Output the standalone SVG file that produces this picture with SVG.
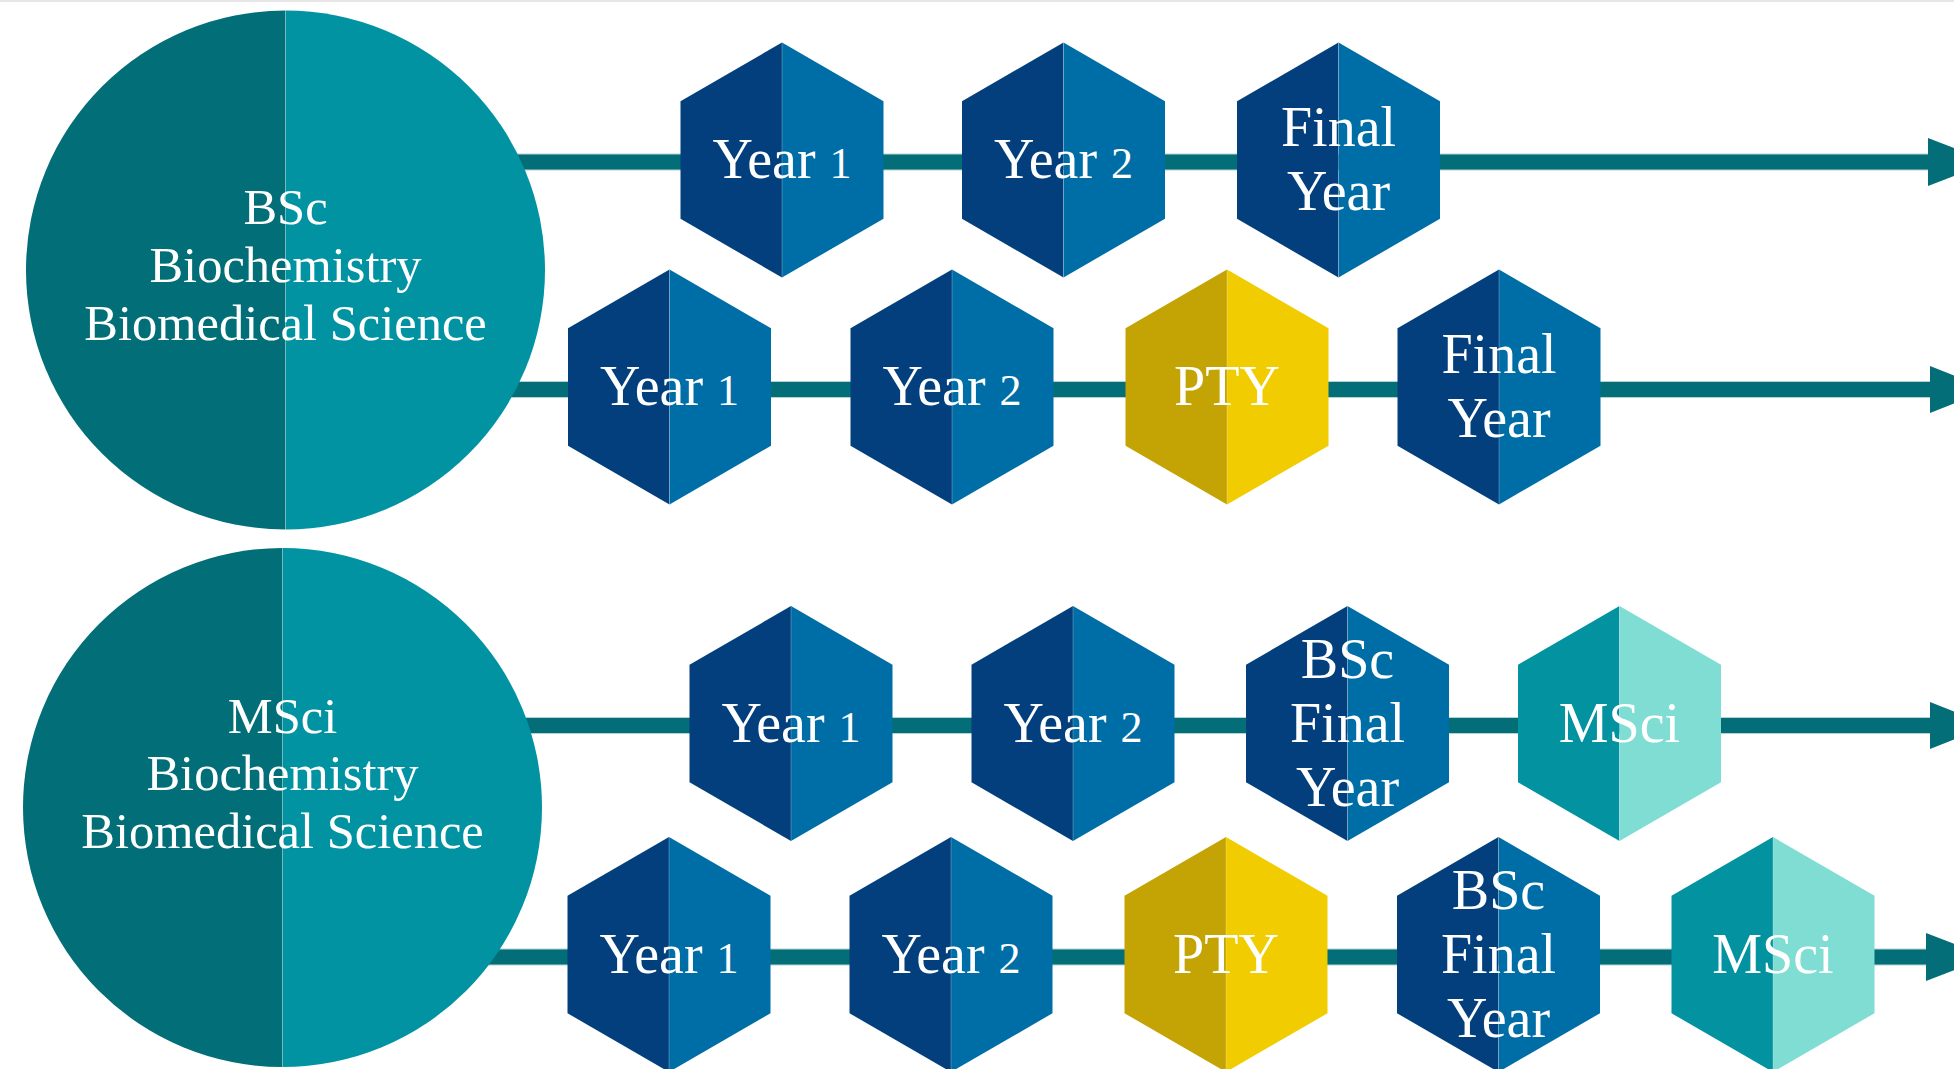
<svg xmlns="http://www.w3.org/2000/svg" xmlns:xlink="http://www.w3.org/1999/xlink" width="1954" height="1069" viewBox="0 0 1954 1069">
  <style>
    .bg{fill:#ffffff}
    .rule{fill:#e6e6e6}
    .conn{fill:#036e77;stroke:#b3d4d7;stroke-width:1}
    .head{fill:#036e77}
    .cL{fill:#026e78}
    .cR{fill:#0293a2}
    .split{stroke:#ffffff;stroke-opacity:0.25;stroke-width:1}
    .navy{fill:#023f7c}
    .blue{fill:#006ea6}
    .goldD{fill:#c4a305}
    .goldL{fill:#f0cc00}
    .tealD{fill:#0292a0}
    .tealL{fill:#7fddd3}
    .txt{font-family:"Liberation Serif","DejaVu Serif",serif;fill:#ffffff;text-anchor:middle}
    .big{font-size:50.5px}
    .lbl{font-size:56px}
    .num{font-size:44px}
  </style>
  <defs>
    <!-- pointy-top hexagon, 203 wide, 235 tall, split into two vertical halves -->
    <path id="hexL" d="M0,-117.5 L-101.5,-58.75 L-101.5,58.75 L0,117.5 Z"/>
    <path id="hexR" d="M0,-117.5 L101.5,-58.75 L101.5,58.75 L0,117.5 Z"/>
    <line id="hexSplit" x1="0" y1="-117.5" x2="0" y2="117.5"/>
  </defs>

  <rect class="bg" x="0" y="0" width="1954" height="1069"/>
  <rect class="rule" x="0" y="0" width="1954" height="2"/>

  <!-- connectors with arrowheads -->
  <g id="connectors">
    <rect class="conn" x="400" y="154" width="1530" height="16"/>
    <polygon class="head" points="1928,138 1990,162 1928,186"/>
    <rect class="conn" x="400" y="381.5" width="1532" height="16"/>
    <polygon class="head" points="1930,366 1990,389.5 1930,413"/>
    <rect class="conn" x="400" y="717.5" width="1532" height="16"/>
    <polygon class="head" points="1930,702 1990,725.5 1930,749"/>
    <rect class="conn" x="400" y="949" width="1528" height="16"/>
    <polygon class="head" points="1926,933 1988,957 1926,981"/>
  </g>

  <!-- programme circles -->
  <g id="bsc-programme">
    <path class="cL" d="M285.5,10.5 A259.5,259.5 0 0 0 285.5,529.5 Z"/>
    <path class="cR" d="M285.5,10.5 A259.5,259.5 0 0 1 285.5,529.5 Z"/>
    <line class="split" x1="285.5" y1="10.5" x2="285.5" y2="529.5"/>
    <text class="txt big" x="285.5" y="224">BSc</text>
    <text class="txt big" x="285.5" y="282">Biochemistry</text>
    <text class="txt big" x="285.5" y="340">Biomedical Science</text>
  </g>
  <g id="msci-programme">
    <path class="cL" d="M282.5,548 A259.5,259.5 0 0 0 282.5,1067 Z"/>
    <path class="cR" d="M282.5,548 A259.5,259.5 0 0 1 282.5,1067 Z"/>
    <line class="split" x1="282.5" y1="548" x2="282.5" y2="1067"/>
    <text class="txt big" x="282.5" y="733">MSci</text>
    <text class="txt big" x="282.5" y="790">Biochemistry</text>
    <text class="txt big" x="282.5" y="848">Biomedical Science</text>
  </g>

  <!-- row 1: BSc, three years -->
  <g id="r1-year1" transform="translate(782,160)">
    <use href="#hexL" class="navy"/><use href="#hexR" class="blue"/><use href="#hexSplit" class="split"/>
    <text class="txt lbl" x="0" y="18">Year <tspan class="num">1</tspan></text>
  </g>
  <g id="r1-year2" transform="translate(1063.5,160)">
    <use href="#hexL" class="navy"/><use href="#hexR" class="blue"/><use href="#hexSplit" class="split"/>
    <text class="txt lbl" x="0" y="18">Year <tspan class="num">2</tspan></text>
  </g>
  <g id="r1-final" transform="translate(1338.5,160)">
    <use href="#hexL" class="navy"/><use href="#hexR" class="blue"/><use href="#hexSplit" class="split"/>
    <text class="txt lbl" x="0" y="-14">Final</text>
    <text class="txt lbl" x="0" y="50">Year</text>
  </g>

  <!-- row 2: BSc with placement year -->
  <g id="r2-year1" transform="translate(669.5,387)">
    <use href="#hexL" class="navy"/><use href="#hexR" class="blue"/><use href="#hexSplit" class="split"/>
    <text class="txt lbl" x="0" y="18">Year <tspan class="num">1</tspan></text>
  </g>
  <g id="r2-year2" transform="translate(952,387)">
    <use href="#hexL" class="navy"/><use href="#hexR" class="blue"/><use href="#hexSplit" class="split"/>
    <text class="txt lbl" x="0" y="18">Year <tspan class="num">2</tspan></text>
  </g>
  <g id="r2-pty" transform="translate(1227,387)">
    <use href="#hexL" class="goldD"/><use href="#hexR" class="goldL"/><use href="#hexSplit" class="split"/>
    <text class="txt lbl" x="0" y="18">PTY</text>
  </g>
  <g id="r2-final" transform="translate(1499,387)">
    <use href="#hexL" class="navy"/><use href="#hexR" class="blue"/><use href="#hexSplit" class="split"/>
    <text class="txt lbl" x="0" y="-14">Final</text>
    <text class="txt lbl" x="0" y="50">Year</text>
  </g>

  <!-- row 3: MSci -->
  <g id="r3-year1" transform="translate(791,723.5)">
    <use href="#hexL" class="navy"/><use href="#hexR" class="blue"/><use href="#hexSplit" class="split"/>
    <text class="txt lbl" x="0" y="18">Year <tspan class="num">1</tspan></text>
  </g>
  <g id="r3-year2" transform="translate(1073,723.5)">
    <use href="#hexL" class="navy"/><use href="#hexR" class="blue"/><use href="#hexSplit" class="split"/>
    <text class="txt lbl" x="0" y="18">Year <tspan class="num">2</tspan></text>
  </g>
  <g id="r3-bsc-final" transform="translate(1347.5,723.5)">
    <use href="#hexL" class="navy"/><use href="#hexR" class="blue"/><use href="#hexSplit" class="split"/>
    <text class="txt lbl" x="0" y="-46">BSc</text>
    <text class="txt lbl" x="0" y="18">Final</text>
    <text class="txt lbl" x="0" y="82">Year</text>
  </g>
  <g id="r3-msci" transform="translate(1619.5,723.5)">
    <use href="#hexL" class="tealD"/><use href="#hexR" class="tealL"/><use href="#hexSplit" class="split"/>
    <text class="txt lbl" x="0" y="18">MSci</text>
  </g>

  <!-- row 4: MSci with placement year -->
  <g id="r4-year1" transform="translate(669,954.5)">
    <use href="#hexL" class="navy"/><use href="#hexR" class="blue"/><use href="#hexSplit" class="split"/>
    <text class="txt lbl" x="0" y="18">Year <tspan class="num">1</tspan></text>
  </g>
  <g id="r4-year2" transform="translate(951,954.5)">
    <use href="#hexL" class="navy"/><use href="#hexR" class="blue"/><use href="#hexSplit" class="split"/>
    <text class="txt lbl" x="0" y="18">Year <tspan class="num">2</tspan></text>
  </g>
  <g id="r4-pty" transform="translate(1226,954.5)">
    <use href="#hexL" class="goldD"/><use href="#hexR" class="goldL"/><use href="#hexSplit" class="split"/>
    <text class="txt lbl" x="0" y="18">PTY</text>
  </g>
  <g id="r4-bsc-final" transform="translate(1498.5,954.5)">
    <use href="#hexL" class="navy"/><use href="#hexR" class="blue"/><use href="#hexSplit" class="split"/>
    <text class="txt lbl" x="0" y="-46">BSc</text>
    <text class="txt lbl" x="0" y="18">Final</text>
    <text class="txt lbl" x="0" y="82">Year</text>
  </g>
  <g id="r4-msci" transform="translate(1773,954.5)">
    <use href="#hexL" class="tealD"/><use href="#hexR" class="tealL"/><use href="#hexSplit" class="split"/>
    <text class="txt lbl" x="0" y="18">MSci</text>
  </g>
</svg>
